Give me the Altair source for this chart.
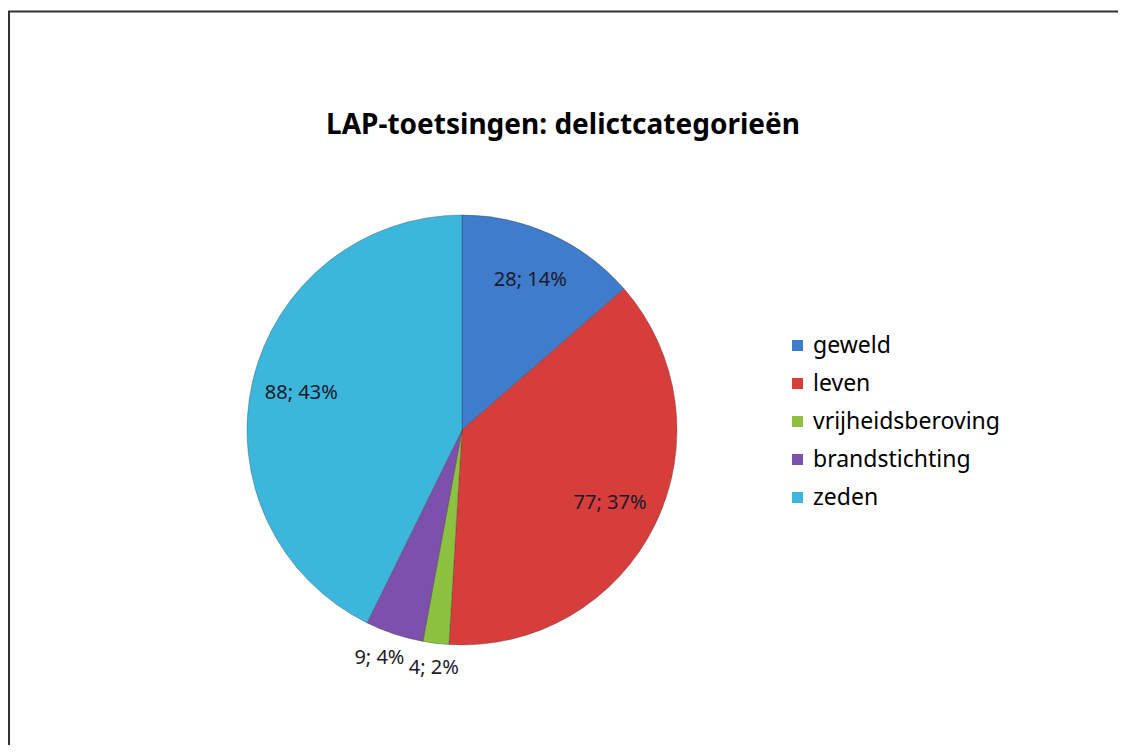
import altair as alt
import pandas as pd

categories = ["geweld", "leven", "vrijheidsberoving", "brandstichting", "zeden"]
counts = [28, 77, 4, 9, 88]
percents = [14, 37, 2, 4, 43]
colors = ["#3F7CCB", "#D73D3A", "#8DC240", "#7D50AC", "#3DB6DB"]

df = pd.DataFrame({
    "categorie": categories,
    "aantal": counts,
    "pct": percents,
    "volgorde": list(range(len(categories))),
})
df["label"] = [f"{c}; {p}%" for c, p in zip(counts, percents)]

W, H = 1110, 737
cx, cy = 454, 422

base = alt.Chart(df).encode(
    theta=alt.Theta("aantal:Q", stack=True),
    order=alt.Order("volgorde:Q"),
)

pie = base.mark_arc(outerRadius=215, stroke="#333333", strokeWidth=0.7, strokeOpacity=0.45).encode(
    x=alt.value(cx),
    y=alt.value(cy),
    color=alt.Color(
        "categorie:N",
        scale=alt.Scale(domain=categories, range=colors),
        legend=alt.Legend(
            title=None,
            orient="none",
            legendX=778,
            legendY=326,
            symbolType="square",
            symbolSize=121,
            symbolStrokeWidth=0,
            labelFontSize=23,
            labelFont="Noto Sans",
            labelColor="#000000",
            labelLimit=400,
            rowPadding=14,
            labelOffset=4,
        ),
    ),
)

label_style = dict(fontSize=20, font="Noto Sans", color="#1b1b2b")

inner_labels = base.mark_text(radius=165, **label_style).encode(
    x=alt.value(cx),
    y=alt.value(cy),
    text=alt.condition("datum.aantal > 20", alt.Text("label:N"), alt.value("")),
)
outer_label_a = base.mark_text(radius=240, dx=1, **label_style).encode(
    x=alt.value(cx),
    y=alt.value(cy),
    text=alt.condition("datum.categorie == 'vrijheidsberoving'", alt.Text("label:N"), alt.value("")),
)
outer_label_b = base.mark_text(radius=240, dx=-7, **label_style).encode(
    x=alt.value(cx),
    y=alt.value(cy),
    text=alt.condition("datum.categorie == 'brandstichting'", alt.Text("label:N"), alt.value("")),
)

frame_src = alt.Chart(pd.DataFrame({"k": [0]}))
left_line = frame_src.mark_rule(color="#333333", strokeWidth=2).encode(
    x=alt.value(1), y=alt.value(3), y2=alt.value(H)
)
top_line = frame_src.mark_rule(color="#333333", strokeWidth=2).encode(
    x=alt.value(0), x2=alt.value(W), y=alt.value(3.5)
)

chart = alt.layer(left_line, top_line, pie, inner_labels, outer_label_a, outer_label_b).properties(
    width=W,
    height=H,
    autosize=alt.AutoSizeParams(type="none"),
    padding=0,
    title=alt.TitleParams(
        "LAP-toetsingen: delictcategorieën",
        anchor="middle",
        baseline="middle",
        offset=0,
        dy=146,
        fontSize=28,
        font="Noto Sans",
        fontWeight="bold",
        color="#000000",
    ),
).configure_view(stroke=None)

chart.save("out.html", embed_options={"renderer": "svg", "actions": False})
